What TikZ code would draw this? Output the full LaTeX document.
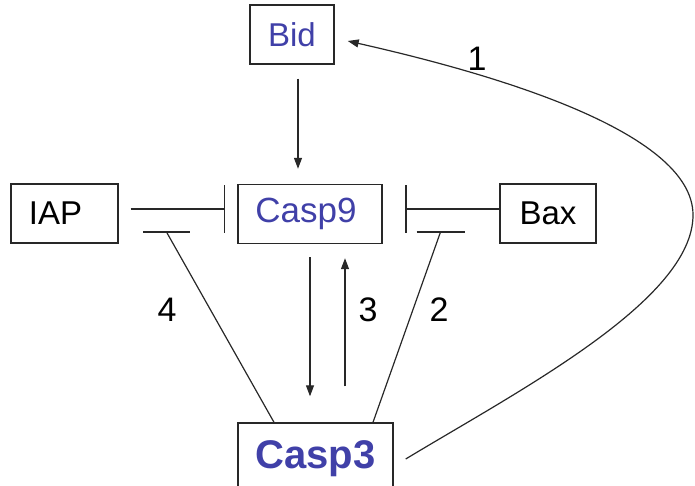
\documentclass[tikz,border=0pt]{standalone}
\usepackage{fontspec}
\setmainfont{Liberation Sans}
\usetikzlibrary{arrows.meta}
\definecolor{protblue}{RGB}{64,64,168}
\definecolor{ink}{RGB}{40,40,40}
\begin{document}
\begin{tikzpicture}[x=1pt,y=-1pt,
  box/.style={draw=ink, line width=1.4pt, rectangle, minimum height=59pt, inner sep=0pt, font=\fontsize{33}{36}\selectfont},
  link/.style={draw=ink, line width=1.2pt},
  act/.style={link, -{Triangle[length=11pt,width=8pt]}},
  inh/.style={link, -{Bar[width=47pt,line width=1.3pt]}},
  num/.style={font=\fontsize{34}{36}\selectfont}]
\useasboundingbox (0,0) rectangle (695,486);

% proteins
\node[box, minimum width=84pt, text=protblue] (bid) at (292,34.5) {Bid};
\node[box, minimum width=107pt] (iap) at (64.5,213.5) {\hspace*{-18pt}IAP};
\node[box, minimum width=144pt, text=protblue, font=\fontsize{35}{38}\selectfont] (casp9) at (310,214) {\hspace*{-8pt}Casp9};
\node[box, minimum width=96pt] (bax) at (548,213.5) {Bax};
\node[box, minimum width=155pt, minimum height=72pt, text=protblue,
      font=\fontsize{40}{44}\selectfont\bfseries] (casp3) at (315.5,459) {\raisebox{3pt}{Casp3}};

% activation arrows
\draw[act, shorten <=14pt, shorten >=15pt] ([xshift=6pt]bid.south) -- ([xshift=-12pt]casp9.north);
\draw[act, shorten <=13pt, shorten >=26pt] ([xshift=0pt]casp9.south) -- ([xshift=-5.5pt]casp3.north);
\draw[act, shorten <=36pt, shorten >=14pt] ([xshift=29.5pt]casp3.north) -- ([xshift=35pt]casp9.south);

% inhibition of Casp9
\draw[inh, shorten <=12pt, shorten >=12pt] ([yshift=4.5pt]iap.east) -- ([yshift=5pt]casp9.west);
\draw[inh, shorten >=22.5pt] ([yshift=4.5pt]bax.west) -- ([yshift=5pt]casp9.east);

% Casp3 feedback on IAP and Bax
\coordinate (t4) at (166.5,232);
\coordinate (t2) at (440.5,232);
\draw[link] ([xshift=-41.5pt]casp3.north) -- (t4);
\draw[link] (t4) ++(-23.5,0) -- ++(47,0);
\draw[link] ([xshift=57.5pt]casp3.north) -- (t2);
\draw[link] (t2) ++(-24,0) -- ++(48,0);

% Casp3 feedback on Bid
\draw[act] ([xshift=12pt]casp3.east) .. controls (520,390) and (693,300) .. (693,215)
  .. controls (693,130) and (485,72) .. ([xshift=13pt,yshift=-6.5pt]bid.east);

% loop labels
\node[num] (n1) at (477,59) {1};
\node[num] (n2) at (439,310) {2};
\node[num] (n3) at (368,310) {3};
\node[num] (n4) at (167,310) {4};
\end{tikzpicture}
\end{document}
